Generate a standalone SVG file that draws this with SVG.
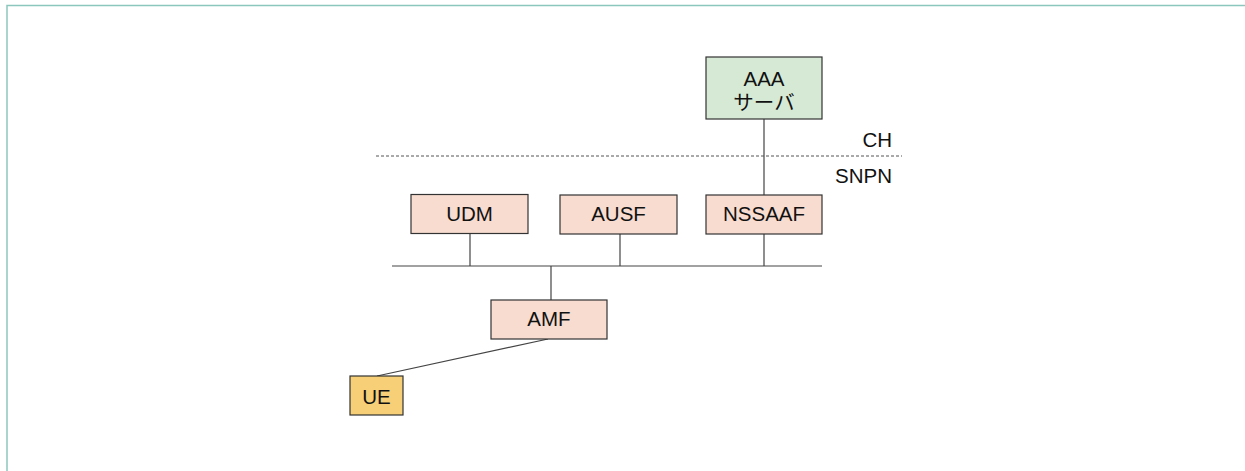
<svg xmlns="http://www.w3.org/2000/svg" width="1245" height="471" viewBox="0 0 1245 471">
  <style>
    .frame { fill: #ffffff; stroke: #8cc7bd; stroke-width: 1.5; }
    .nf { fill: #f8dcd0; stroke: #333333; stroke-width: 1.2; }
    .aaa { fill: #d6e9d5; stroke: #333333; stroke-width: 1.2; }
    .ue { fill: #f6cf77; stroke: #333333; stroke-width: 1.2; }
    .lbl { font-family: "Liberation Sans", "Noto Sans CJK JP", Arial, sans-serif; font-size: 20.5px; fill: #111111; text-anchor: middle; }
    .zone { font-family: "Liberation Sans", Arial, sans-serif; font-size: 20.5px; fill: #111111; text-anchor: end; }
    .ln { stroke: #444444; stroke-width: 1.2; fill: none; }
    .dash { stroke: #555555; stroke-width: 1; stroke-dasharray: 3 2; fill: none; }
  </style>

  <rect x="0" y="0" width="1245" height="471" fill="#ffffff"/>
  <rect class="frame" x="7" y="5.5" width="1250" height="480"/>

  <!-- connectors -->
  <g id="connectors">
    <line class="ln" x1="764" y1="119" x2="764" y2="266"/>
    <line class="ln" x1="392" y1="266" x2="822" y2="266"/>
    <line class="ln" x1="470" y1="233" x2="470" y2="266"/>
    <line class="ln" x1="620" y1="234" x2="620" y2="266"/>
    <line class="ln" x1="551" y1="266" x2="551" y2="300"/>
    <line class="ln" x1="548" y1="339" x2="377" y2="376"/>
  </g>

  <!-- network boundary -->
  <g id="boundary">
    <line class="dash" x1="376" y1="156" x2="902" y2="156"/>
    <text class="zone" x="892" y="147">CH</text>
    <text class="zone" x="892" y="183">SNPN</text>
  </g>

  <g id="aaa">
    <rect class="aaa" x="706" y="57" width="116" height="62"/>
    <text class="lbl" x="764" y="86">AAA</text>
    <text class="lbl" x="764" y="110">サーバ</text>
  </g>

  <g id="udm">
    <rect class="nf" x="411" y="194.5" width="117" height="39"/>
    <text class="lbl" x="469.5" y="221">UDM</text>
  </g>

  <g id="ausf">
    <rect class="nf" x="560" y="195" width="117" height="39"/>
    <text class="lbl" x="618.5" y="221">AUSF</text>
  </g>

  <g id="nssaaf">
    <rect class="nf" x="706" y="195" width="116" height="39"/>
    <text class="lbl" x="764" y="221">NSSAAF</text>
  </g>

  <g id="amf">
    <rect class="nf" x="491" y="300" width="116" height="39"/>
    <text class="lbl" x="549" y="326">AMF</text>
  </g>

  <g id="ue">
    <rect class="ue" x="350" y="376" width="53" height="39"/>
    <text class="lbl" x="376.5" y="404">UE</text>
  </g>
</svg>
